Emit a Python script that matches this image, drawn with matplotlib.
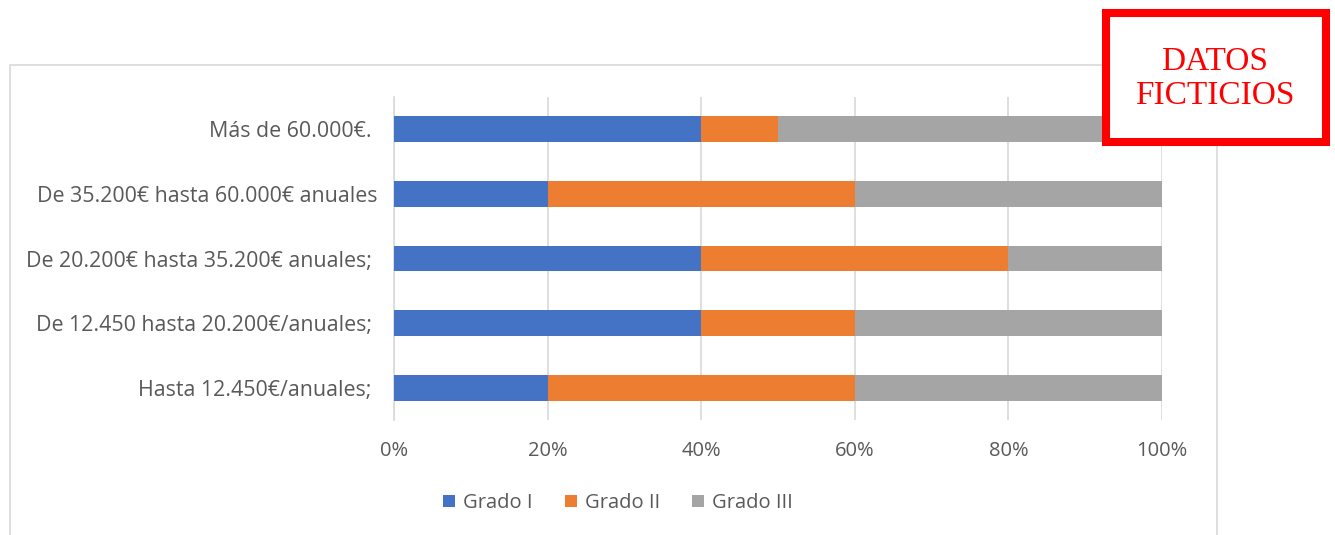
import matplotlib.pyplot as plt
from matplotlib.patches import Rectangle

# data
categorias = ['Hasta 12.450€/anuales; ',
              'De 12.450 hasta 20.200€/anuales; ',
              'De 20.200€ hasta 35.200€ anuales; ',
              'De 35.200€ hasta 60.000€ anuales',
              'Más de 60.000€. ']
grado1 = [20, 40, 40, 20, 40]
grado2 = [40, 20, 40, 40, 10]
grado3 = [40, 40, 20, 40, 50]
series = ['Grado I', 'Grado II', 'Grado III']
colores = ['#4472C4', '#ED7D31', '#A5A5A5']
ticks = [0, 20, 40, 60, 80, 100]

plt.rcParams['font.family'] = ['Open Sans', 'DejaVu Sans']

fig = plt.figure(figsize=(13.35, 5.35), dpi=100)
ax = fig.add_axes([394/1335, 1-420/535, 768/1335, 323/535])

y = range(len(categorias))
izq = [0]*len(categorias)
for vals, nombre, col in zip([grado1, grado2, grado3], series, colores):
    ax.barh(y, vals, left=izq, height=0.4, color=col, label=nombre, zorder=3)
    izq = [a + b for a, b in zip(izq, vals)]

ax.set_xlim(0, 100)
ax.set_ylim(-0.5, len(categorias) - 0.5)
ax.set_xticks(ticks)
ax.set_xticklabels([f'{t}%' for t in ticks])
ax.set_yticks(list(y))
ax.set_yticklabels(categorias)
ax.tick_params(axis='both', length=0, labelcolor='#595959')
ax.tick_params(axis='x', pad=15, labelsize=14.5)
ax.tick_params(axis='y', pad=12, labelsize=15.4)
ax.grid(axis='x', color='#D9D9D9', linewidth=1.2, zorder=0)
for s in ['top', 'right', 'bottom']:
    ax.spines[s].set_visible(False)
ax.spines['left'].set_color('#D9D9D9')
ax.spines['left'].set_linewidth(1.2)

fig.legend(loc='center', bbox_to_anchor=(618/1335, 1-503/535), ncol=3,
           frameon=False, fontsize=14.5, labelcolor='#595959',
           handlelength=0.6, handleheight=0.6, handletextpad=0.4, columnspacing=1.6)

# chart border
fig.add_artist(Rectangle((10/1335, -0.05), 1207/1335, 1.05 - 65/535,
                         transform=fig.transFigure, fill=False,
                         edgecolor='#D9D9D9', linewidth=1.2))

# red box
fig.add_artist(Rectangle((1106/1335, 1-141.5/535), 220/1335, 128.5/535,
                         transform=fig.transFigure, facecolor='white',
                         edgecolor='#FF0000', linewidth=5.8, zorder=5))
fig.text(1215/1335, 1-79/535, 'DATOS\nFICTICIOS', ha='center', va='center',
         color='#FF0000', fontsize=24, family='Liberation Serif',
         linespacing=1.15, zorder=6)

plt.savefig('out.png', dpi=100)
